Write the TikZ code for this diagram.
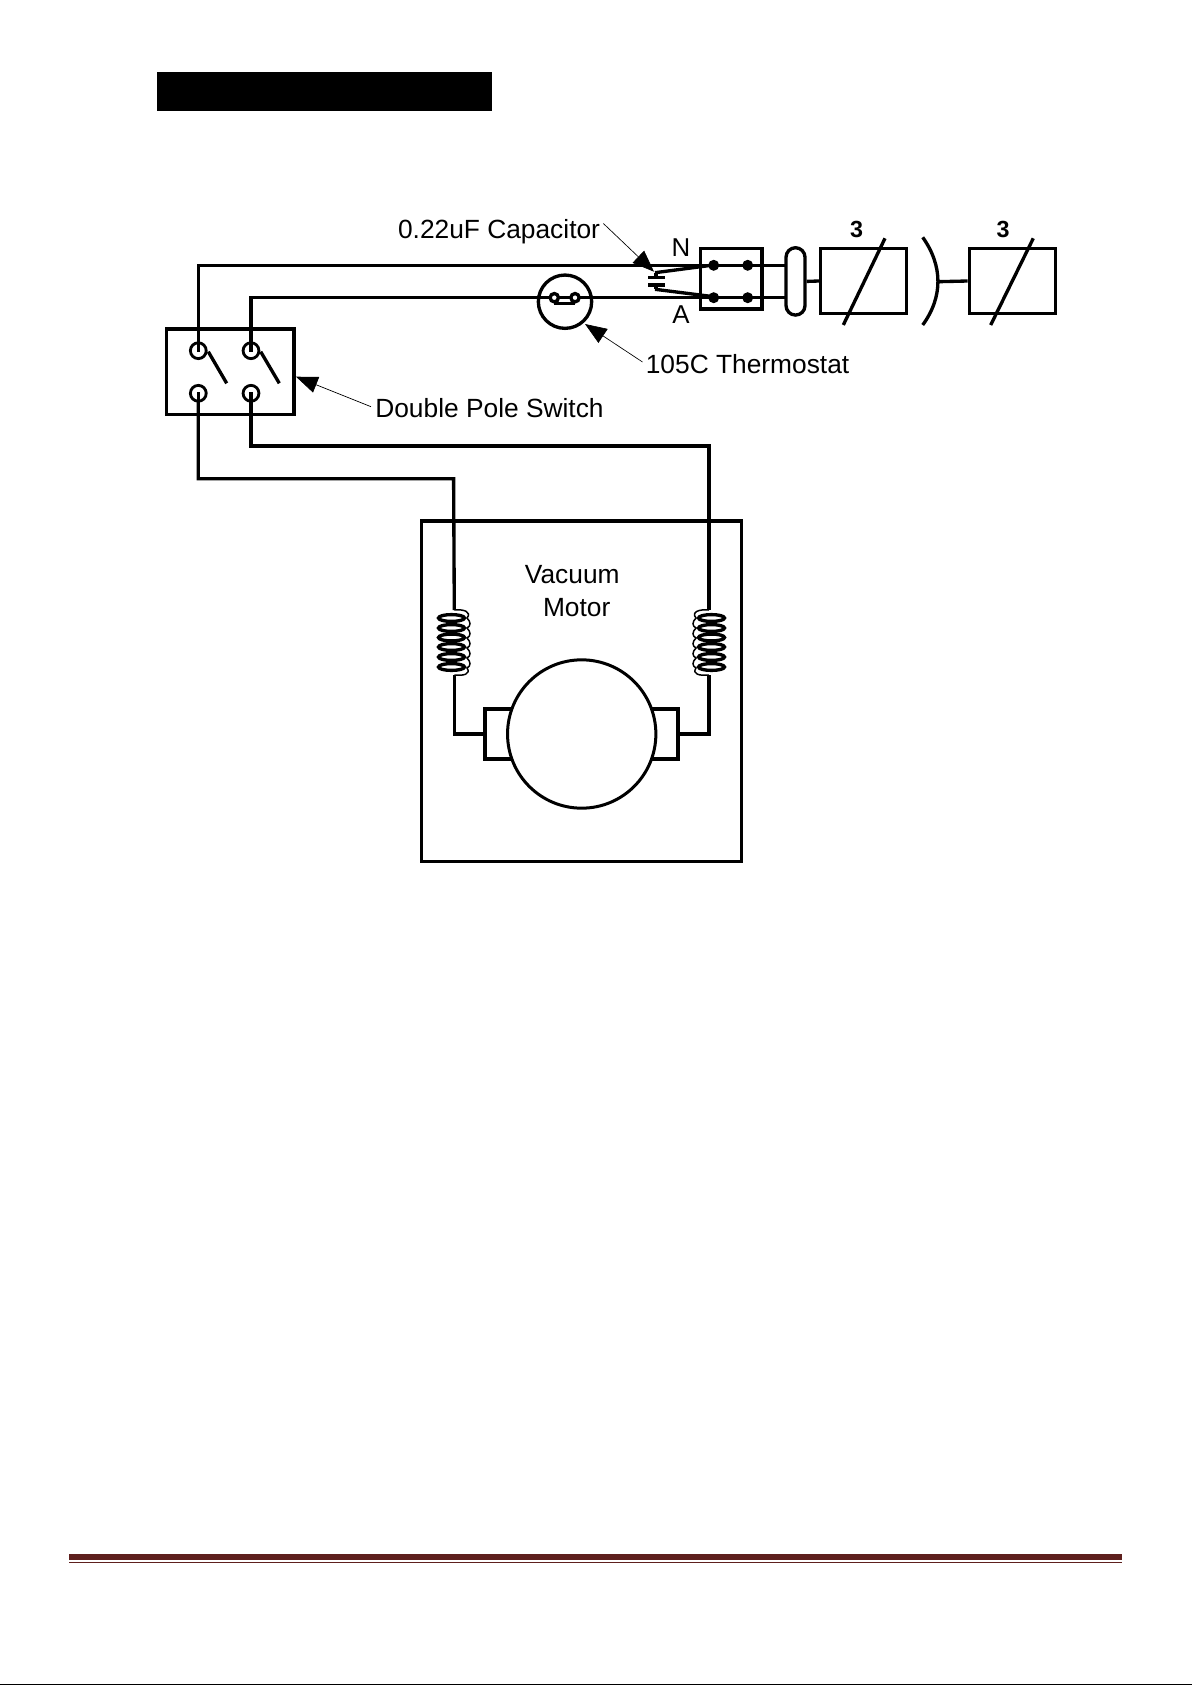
\documentclass[tikz,border=0pt]{standalone}
\usepackage{fontspec}
\setmainfont{Liberation Sans}
\usetikzlibrary{arrows.meta}
\definecolor{barred}{RGB}{94,32,30}
\tikzset{
 x=0.6pt,y=-0.6pt,
 wire/.style={line width=2pt,line join=miter},
 lab/.style={inner sep=0pt,anchor=base west,font=\fontsize{15.8}{15.8}\selectfont},
 pin/.style={draw,line width=1.7pt,fill=white,circle,inner sep=0pt,minimum size=9.5pt},
 smallpin/.style={draw,line width=2pt,fill=white,circle,inner sep=0pt,minimum size=5pt},
 leader/.style={line width=0.4pt,-{Triangle[length=13pt,width=10pt]}},
}
\begin{document}
\begin{tikzpicture}
\useasboundingbox (0,0) rectangle (1192,1685);
\fill[white] (0,0) rectangle (1192,1685);
% title bar
\fill[black] (157,72) rectangle (492,111);
% switch
\node[draw,wire,minimum width=76.4pt,minimum height=51.2pt,inner sep=0pt] (sw) at (230.3,371.6) {};
\draw[wire] (198.3,350.7) |- (713.7,265.3) -- (786,265.3);
\draw[wire] (251,350.7) |- (713.7,297.7) -- (786,297.7);
\draw[wire] (198.3,393.3) |- (453.6,478.7) -- (454.3,610);
\draw[wire] (251,393.3) |- (709,446) -- (709,610);
\node[pin] (p1) at (198.3,350.7) {};
\node[pin] (p2) at (251,350.7) {};
\node[pin] (p3) at (198.3,393.3) {};
\node[pin] (p4) at (251,393.3) {};
\draw[wire] (198.3,343) -- (198.3,352);
\draw[wire] (251,343) -- (251,352);
\draw[wire] (198.3,392) -- (198.3,416);
\draw[wire] (251,392) -- (251,416);
\draw[wire] (208.3,351.7) -- (226.7,383.3);
\draw[wire] (260.7,351.7) -- (279.3,383.3);
% thermostat
\node[draw,wire,circle,minimum size=32pt,inner sep=0pt] (th) at (565,301.7) {};
\draw[line width=1.6pt] (554.3,303.3) -- (575,303.3);
\node[smallpin] (t1) at (554.3,297.7) {};
\node[smallpin] (t2) at (575,297.7) {};
% capacitor
\draw[wire] (648,277.3) -- (665,277.3);
\draw[wire] (648,285) -- (665,285);
\draw[wire] (655,272.7) -- (713.7,265);
\draw[wire] (655,289.3) -- (713.7,296.7);
\draw[wire] (656,272.7) -- (656,277.3);
\draw[wire] (656,285) -- (656,289.3);
% terminal block
\node[draw,wire,minimum width=36.8pt,minimum height=36.2pt,inner sep=0pt] (tb) at (731.3,278.9) {};
\foreach \a/\x/\y in {a/713.7/265.3,b/747.7/265.3,c/713.7/297.7,d/747.7/297.7}
  \fill[black] (\x,\y) circle[radius=5.5];
% plug
\node[draw,wire,fill=white,rounded corners=5.7pt,minimum width=11.4pt,minimum height=40.4pt,inner sep=0pt] (plug) at (795.5,281.4) {};
\coordinate (cr) at (938,281.7);
% fuse boxes
\node[draw,wire,minimum width=51.6pt,minimum height=38.8pt,inner sep=0pt] (b1) at (863.7,281) {};
\node[draw,wire,minimum width=51.8pt,minimum height=38.8pt,inner sep=0pt] (b2) at (1012.5,281) {};
\draw[wire] (plug.east) -- (b1.west);
\draw[wire] (cr) -- (b2.west);
\draw[wire] (843.3,325) -- (885,238.3);
\draw[wire] (990.7,325) -- (1033.3,238.3);
\draw[wire] (922.7,237.3) .. controls (943,266) and (943,297) .. (922.7,325);
\node[inner sep=0pt,font=\fontsize{14}{14}\selectfont\bfseries] (n3a) at (856.7,229) {3};
\node[inner sep=0pt,font=\fontsize{14}{14}\selectfont\bfseries] (n3b) at (1003,229) {3};
% labels
\node[lab] (lcap) at (397.7,238.5) {0.22uF Capacitor};
\node[lab] (lth) at (645.5,373) {105C Thermostat};
\node[lab] (lsw) at (375,417.7) {Double Pole Switch};
\node[inner sep=0pt,font=\fontsize{15.5}{15.5}\selectfont] (lN) at (681,248) {N};
\node[inner sep=0pt,font=\fontsize{15.5}{15.5}\selectfont] (lA) at (681,315) {A};
\draw[leader] (lcap.base east) ++(3,-15) -- (654,271.7);
\draw[leader] (lth.base west) ++(-3,-11) -- (585,324);
\draw[leader] (lsw.base west) ++(-4,-11) -- (296,376.7);
% motor
\node[draw,wire,minimum width=192pt,minimum height=204.4pt,inner sep=0pt] (mot) at (581.7,691.3) {};
\node[lab,anchor=base] (v1) at (572.3,583.3) {Vacuum};
\node[lab,anchor=base] (v2) at (576.7,616.7) {Motor};
% coils
\foreach \y in {618,628,637.5,647,657,667}{
  \draw[line width=2pt] (451.5,\y) ellipse[x radius=13,y radius=3.4];
  \draw[line width=2pt] (711.5,\y) ellipse[x radius=13,y radius=3.4];
}
\draw[line width=0.9pt] (454.3,610) .. controls (464,609) and (472,612) .. (467,618) .. controls (471,622) and (471,626) .. (467,628) .. controls (471,632) and (471,636) .. (467,638) .. controls (471,642) and (471,646) .. (467,648) .. controls (471,652) and (471,656) .. (467,658) .. controls (471,662) and (471,666) .. (467,668) .. controls (471,674) and (464,676) .. (454.3,675);
\draw[line width=0.9pt] (709,610) .. controls (699,609) and (691,612) .. (696,618) .. controls (692,622) and (692,626) .. (696,628) .. controls (692,632) and (692,636) .. (696,638) .. controls (692,642) and (692,646) .. (696,648) .. controls (692,652) and (692,656) .. (696,658) .. controls (692,662) and (692,666) .. (696,668) .. controls (692,674) and (699,676) .. (709,675);
% brushes and rotor
\node[draw,wire,minimum width=24pt,minimum height=30pt,inner sep=0pt] (bl) at (505,734) {};
\node[draw,wire,minimum width=24pt,minimum height=30pt,inner sep=0pt] (br) at (658,734) {};
\node[draw,line width=1.8pt,fill=white,circle,minimum size=89pt,inner sep=0pt] (rot) at (581.7,734) {};
\draw[wire] (454.3,675) |- (bl.west);
\draw[wire] (709,675) |- (br.east);
% footer
\fill[barred] (69,1554) rectangle (1122,1560);
\fill[barred] (69,1562) rectangle (1122,1563);
\fill[black] (0,1684) rectangle (1192,1685);
\end{tikzpicture}
\end{document}
